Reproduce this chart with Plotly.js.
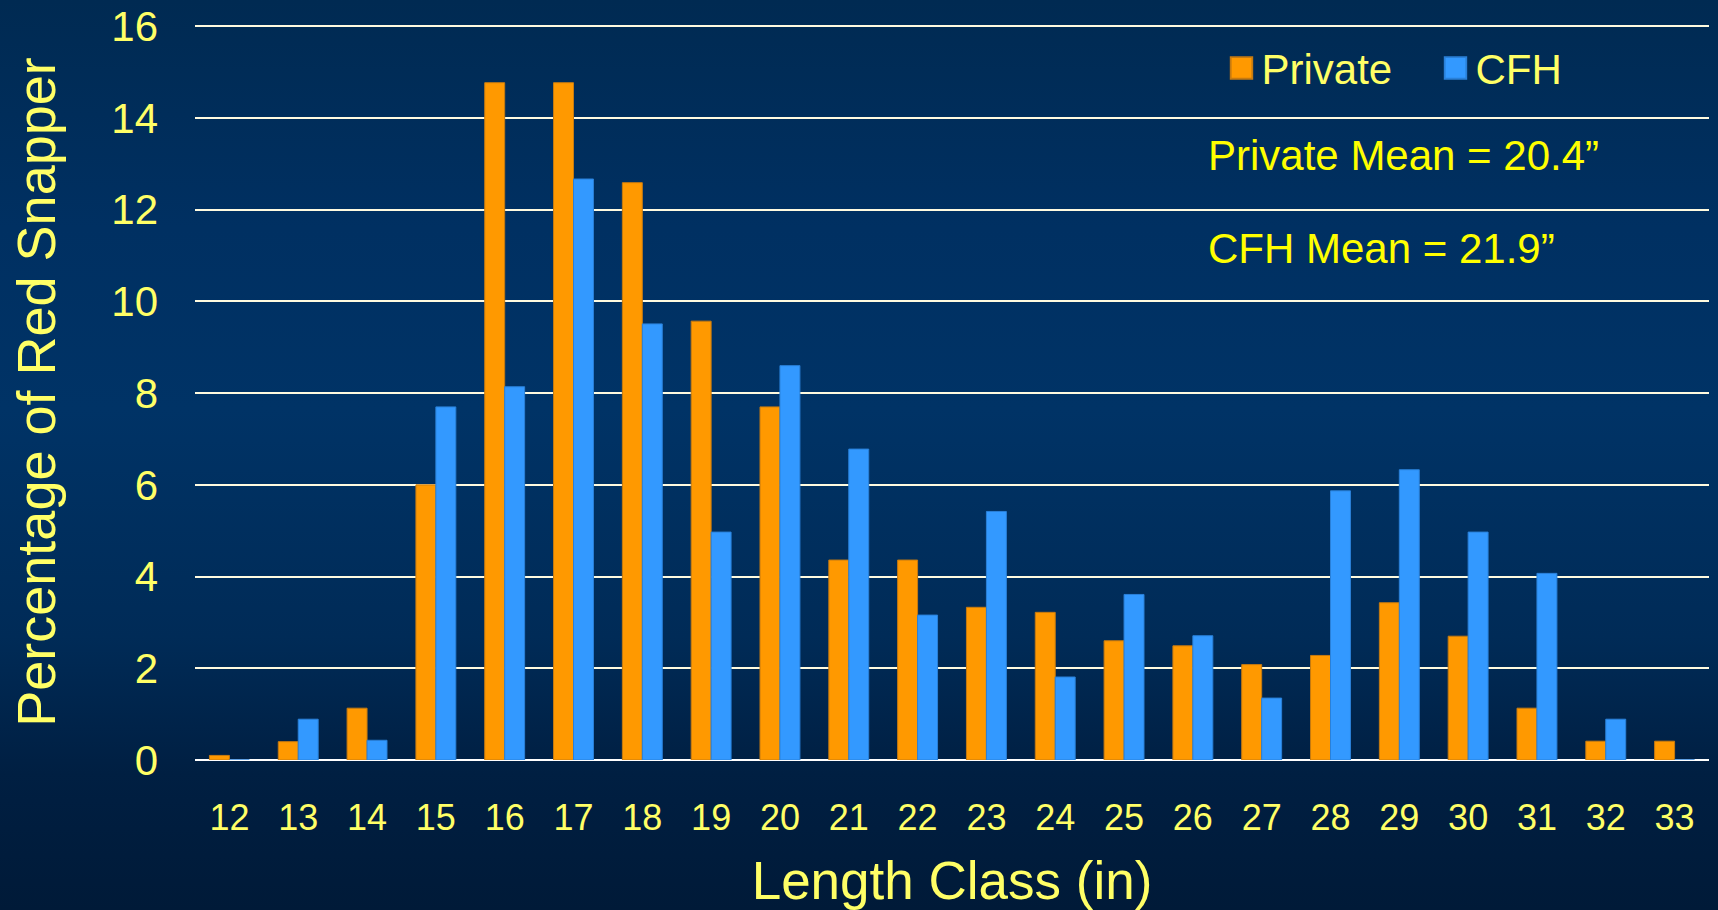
<!DOCTYPE html>
<html>
<head>
<meta charset="utf-8">
<script src="https://cdn.plot.ly/plotly-3.0.1.min.js"></script>
<style>
  html, body { margin: 0; padding: 0; }
  body {
    width: 1718px; height: 910px; overflow: hidden;
    background: linear-gradient(to bottom, #002a52 0%, #003062 25%, #003366 45%, #002b57 70%, #001f42 85%, #001a38 100%);
  }
  #chart { width: 1718px; height: 910px; }
  .legend .legendpoints path { transform: translate(20px, 0px) scale(1.8); }
</style>
</head>
<body>
<div id="chart"></div>
<script>
// Length classes (inches)
const lengthClasses = ['12','13','14','15','16','17','18','19','20','21','22','23','24','25','26','27','28','29','30','31','32','33'];
// Percentage of red snapper by length class
const privateValues = [0.1, 0.4, 1.13, 6.0, 14.77, 14.77, 12.59, 9.57, 7.7, 4.36, 4.36, 3.33, 3.22, 2.6, 2.49, 2.08, 2.28, 3.43, 2.7, 1.13, 0.41, 0.41];
const cfhValues     = [0, 0.89, 0.43, 7.7, 8.14, 12.67, 9.51, 4.97, 8.6, 6.78, 3.16, 5.42, 1.81, 3.61, 2.71, 1.35, 5.87, 6.33, 4.97, 4.07, 0.89, 0];
const seriesNames = ['Private', 'CFH'];
const yTicks = [0, 2, 4, 6, 8, 10, 12, 14, 16];
const meanNotes = ['Private Mean = 20.4\u201D', 'CFH Mean = 21.9\u201D'];

const FONT = 'Liberation Sans, Arial, Helvetica, sans-serif';
const PALE = '#ffff66';

const traces = [
  {
    type: 'bar', name: seriesNames[0], x: lengthClasses, y: privateValues,
    marker: { color: '#ff9900', line: { color: '#c67a10', width: 1 } }
  },
  {
    type: 'bar', name: seriesNames[1], x: lengthClasses, y: cfhValues,
    marker: { color: '#3399ff', line: { color: '#2a80d8', width: 1 } }
  }
];

const layout = {
  width: 1718, height: 910,
  paper_bgcolor: 'rgba(0,0,0,0)',
  plot_bgcolor: 'rgba(0,0,0,0)',
  margin: { l: 195, r: 9, t: 24, b: 150 },
  barmode: 'group',
  bargap: 0.42,
  bargroupgap: 0,
  font: { family: FONT, color: PALE },
  showlegend: true,
  legend: {
    orientation: 'h',
    x: 0.678, xanchor: 'left',
    y: 0.94, yanchor: 'middle',
    font: { family: FONT, size: 42, color: PALE },
    bgcolor: 'rgba(0,0,0,0)',
    entrywidth: 169, entrywidthmode: 'pixels',
    traceorder: 'normal'
  },
  xaxis: {
    type: 'category',
    tickfont: { family: FONT, size: 36, color: PALE },
    showgrid: false,
    ticks: '',
    ticklabelstandoff: 33,
    showline: false,
    zeroline: false,
    automargin: false,
    title: { text: 'Length Class (in)', font: { family: FONT, size: 53, color: PALE }, standoff: 24 }
  },
  yaxis: {
    range: [0, 16.05],
    tickvals: yTicks,
    tickfont: { family: FONT, size: 42, color: PALE },
    showgrid: true,
    gridcolor: '#fffbe0',
    gridwidth: 2,
    zeroline: true,
    zerolinecolor: '#ffffff',
    zerolinewidth: 2,
    ticks: '',
    ticklabelstandoff: 36,
    automargin: false,
    title: { text: 'Percentage of Red Snapper', font: { family: FONT, size: 54, color: PALE }, standoff: 38 }
  },
  annotations: [
    { xref: 'paper', yref: 'paper', x: 0.668, y: 0.8215, xanchor: 'left', yanchor: 'middle',
      text: meanNotes[0], showarrow: false, font: { family: FONT, size: 42, color: '#ffff00' } },
    { xref: 'paper', yref: 'paper', x: 0.668, y: 0.695, xanchor: 'left', yanchor: 'middle',
      text: meanNotes[1], showarrow: false, font: { family: FONT, size: 42, color: '#ffff00' } }
  ]
};

Plotly.newPlot('chart', traces, layout, { staticPlot: true, displayModeBar: false });
</script>
</body>
</html>
